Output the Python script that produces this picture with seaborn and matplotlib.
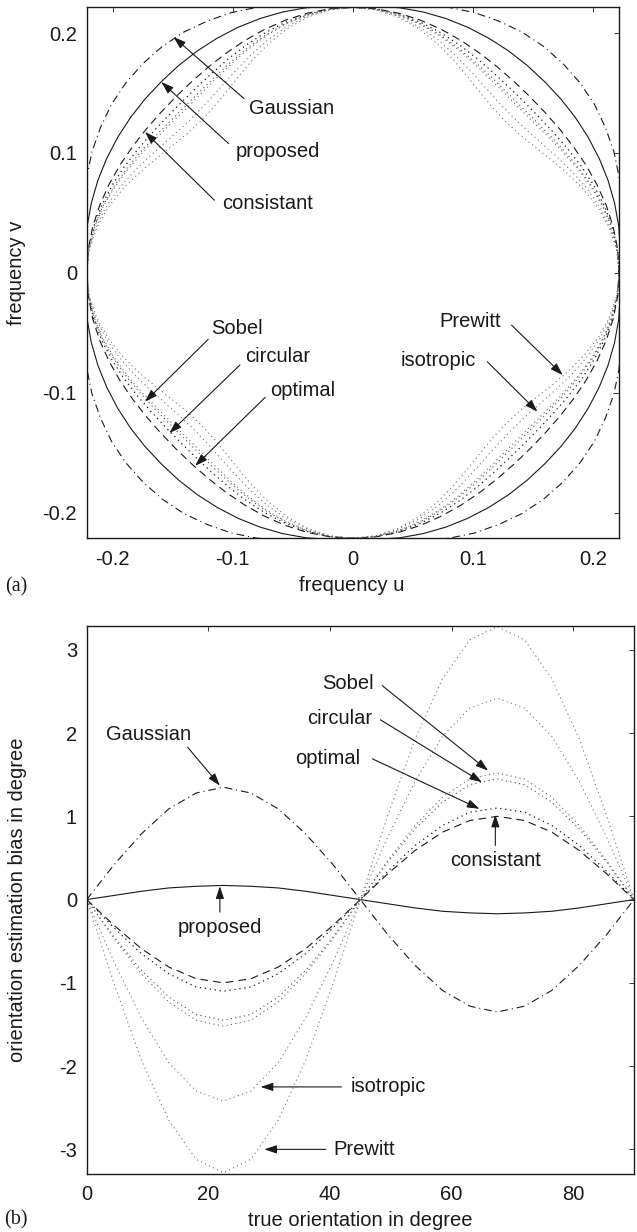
import numpy as np
import pandas as pd
import seaborn as sns
import matplotlib.pyplot as plt

# ---------------- panel (a): iso-response contours ----------------
# radius of each contour read at angles of one octant (0..45 deg); the
# contours are symmetric about both axes and the diagonals
OCT_ANGLES = [0, 5, 10, 15, 20, 25, 30, 35, 40, 45]
R_GAUSSIAN = [0.2215, 0.2235, 0.2270, 0.2310, 0.2355, 0.2395, 0.2425, 0.2452, 0.2466, 0.2470]
R_PROPOSED = [0.2215, 0.2232, 0.2245, 0.2253, 0.2258, 0.2260, 0.2260, 0.2259, 0.2257, 0.2255]
R_CONSISTANT = [0.2215, 0.2211, 0.2199, 0.2181, 0.2159, 0.2136, 0.2114, 0.2096, 0.2084, 0.2080]
R_OPTIMAL = [0.2215, 0.2209, 0.2192, 0.2165, 0.2132, 0.2098, 0.2065, 0.2038, 0.2021, 0.2015]
R_CIRCULAR = [0.2215, 0.2208, 0.2186, 0.2154, 0.2114, 0.2071, 0.2031, 0.1999, 0.1977, 0.1970]
R_SOBEL = [0.2215, 0.2207, 0.2184, 0.2149, 0.2106, 0.2059, 0.2016, 0.1981, 0.1958, 0.1950]
R_ISOTROPIC = [0.2215, 0.2204, 0.2173, 0.2126, 0.2068, 0.2007, 0.1949, 0.1902, 0.1871, 0.1860]
R_PREWITT = [0.2215, 0.2202, 0.2165, 0.2109, 0.2039, 0.1966, 0.1896, 0.1840, 0.1803, 0.1790]

FREQ_TICKS = [-0.2, -0.1, 0, 0.1, 0.2]
FREQ_LABELS = ["-0.2", "-0.1", "0", "0.1", "0.2"]

# ---------------- panel (b): orientation bias ----------------
ORIENT = [0, 4.5, 9, 13.5, 18, 22.5, 27, 31.5, 36, 40.5, 45,
          49.5, 54, 58.5, 63, 67.5, 72, 76.5, 81, 85.5, 90]
BIAS_GAUSSIAN = [0, 0.42, 0.79, 1.09, 1.28, 1.35, 1.28, 1.09, 0.79, 0.42, 0,
                 -0.42, -0.79, -1.09, -1.28, -1.35, -1.28, -1.09, -0.79, -0.42, 0]
BIAS_PROPOSED = [0, 0.05, 0.10, 0.14, 0.16, 0.17, 0.16, 0.14, 0.10, 0.05, 0,
                 -0.05, -0.10, -0.14, -0.16, -0.17, -0.16, -0.14, -0.10, -0.05, 0]
BIAS_CONSISTANT = [0, -0.31, -0.59, -0.81, -0.95, -1.00, -0.95, -0.81, -0.59, -0.31, 0,
                   0.31, 0.59, 0.81, 0.95, 1.00, 0.95, 0.81, 0.59, 0.31, 0]
BIAS_OPTIMAL = [0, -0.34, -0.65, -0.89, -1.05, -1.10, -1.05, -0.89, -0.65, -0.34, 0,
                0.34, 0.65, 0.89, 1.05, 1.10, 1.05, 0.89, 0.65, 0.34, 0]
BIAS_CIRCULAR = [0, -0.45, -0.85, -1.17, -1.38, -1.45, -1.38, -1.17, -0.85, -0.45, 0,
                 0.45, 0.85, 1.17, 1.38, 1.45, 1.38, 1.17, 0.85, 0.45, 0]
BIAS_SOBEL = [0, -0.47, -0.89, -1.23, -1.45, -1.52, -1.45, -1.23, -0.89, -0.47, 0,
              0.47, 0.89, 1.23, 1.45, 1.52, 1.45, 1.23, 0.89, 0.47, 0]
BIAS_ISOTROPIC = [0, -0.75, -1.42, -1.96, -2.30, -2.42, -2.30, -1.96, -1.42, -0.75, 0,
                  0.75, 1.42, 1.96, 2.30, 2.42, 2.30, 1.96, 1.42, 0.75, 0]
BIAS_PREWITT = [0, -1.01, -1.93, -2.65, -3.12, -3.28, -3.12, -2.65, -1.93, -1.01, 0,
                1.01, 1.93, 2.65, 3.12, 3.28, 3.12, 2.65, 1.93, 1.01, 0]

ORIENT_TICKS = [0, 20, 40, 60, 80]
BIAS_TICKS = [-3, -2, -1, 0, 1, 2, 3]

FILTERS = ["Gaussian", "proposed", "consistant", "optimal",
           "circular", "Sobel", "isotropic", "Prewitt"]
RADII = [R_GAUSSIAN, R_PROPOSED, R_CONSISTANT, R_OPTIMAL,
         R_CIRCULAR, R_SOBEL, R_ISOTROPIC, R_PREWITT]
BIASES = [BIAS_GAUSSIAN, BIAS_PROPOSED, BIAS_CONSISTANT, BIAS_OPTIMAL,
          BIAS_CIRCULAR, BIAS_SOBEL, BIAS_ISOTROPIC, BIAS_PREWITT]

DOT = (0, (1, 3))
STYLES = {
    "Gaussian": dict(ls=(0, (7, 3.5, 1, 3.5)), color="k", lw=0.8),
    "proposed": dict(ls="-", color="k", lw=0.8),
    "consistant": dict(ls=(0, (7, 4.5)), color="k", lw=0.8),
    "optimal": dict(ls=DOT, color="0.1", lw=0.9),
    "circular": dict(ls=DOT, color="0.3", lw=0.8),
    "Sobel": dict(ls=DOT, color="0.4", lw=0.8),
    "isotropic": dict(ls=DOT, color="0.45", lw=0.8),
    "Prewitt": dict(ls=DOT, color="0.45", lw=0.8),
}

# label text centre, arrow tail, arrow tip (data coordinates)
NOTES_A = [
    ("Gaussian", (-0.051, 0.137), (-0.0906, 0.1453), (-0.1493, 0.1967)),
    ("proposed", (-0.0628, 0.1008), (-0.1035, 0.1078), (-0.1594, 0.1592)),
    ("consistant", (-0.0713, 0.0578), (-0.1153, 0.0606), (-0.173, 0.1175)),
    ("Sobel", (-0.0967, -0.0464), (-0.1204, -0.0555), (-0.173, -0.1075)),
    ("circular", (-0.0628, -0.070), (-0.094, -0.0769), (-0.1527, -0.1338)),
    ("optimal", (-0.0418, -0.0978), (-0.073, -0.1039), (-0.1313, -0.1611)),
    ("Prewitt", (0.0972, -0.0408), (0.1319, -0.0436), (0.1745, -0.0853)),
    ("isotropic", (0.0711, -0.0728), (0.1118, -0.0742), (0.1535, -0.1158)),
]
NOTES_B = [
    ("Gaussian", (10.2, 1.98), (16.6, 1.83), (21.9, 1.37)),
    ("proposed", (21.9, -0.33), (21.9, -0.15), (21.9, 0.16)),
    ("consistant", (67.2, 0.47), (67.2, 0.65), (67.2, 1.02)),
    ("Sobel", (42.9, 2.60), (48.6, 2.57), (66.0, 1.55)),
    ("circular", (41.6, 2.18), (48.3, 2.16), (65.0, 1.41)),
    ("optimal", (39.6, 1.70), (47.0, 1.69), (64.6, 1.09)),
    ("isotropic", (49.6, -2.25), (41.9, -2.25), (28.6, -2.25)),
    ("Prewitt", (45.6, -3.0), (39.3, -3.0), (29.2, -3.0)),
]

FS = 14.5


def contour_frame(r_oct):
    # walk the closed contour by mirroring the octant readings
    ang, rad = [], []
    n = len(OCT_ANGLES)
    for q in range(4):
        for k in range(n):
            ang.append(q * 90 + OCT_ANGLES[k])
            rad.append(r_oct[k])
        for k in range(n - 2, -1, -1):
            ang.append(q * 90 + 90 - OCT_ANGLES[k])
            rad.append(r_oct[k])
    t = np.deg2rad(ang)
    rad = np.array(rad)
    return pd.DataFrame({"u": rad * np.cos(t), "v": rad * np.sin(t)})


def annotate(ax, notes):
    for label, txt, tail, tip in notes:
        ax.annotate("", xy=tip, xytext=tail,
                    arrowprops=dict(arrowstyle="-|>,head_length=0.75,head_width=0.25",
                                    mutation_scale=10, color="k", lw=0.8,
                                    shrinkA=0, shrinkB=0))
        ax.text(txt[0], txt[1], label, ha="center", va="center", fontsize=FS,
                color="k")


def style_axes(ax):
    for s in ax.spines.values():
        s.set_visible(True)
        s.set_linewidth(1.0)
        s.set_color("k")
    ax.tick_params(direction="in", top=True, right=True, length=3.6, width=0.6,
                   labelsize=FS, colors="k")
    ax.tick_params(axis="x", pad=8.5)
    ax.tick_params(axis="y", pad=7)
    ax.grid(False)


sns.set_theme(style="white")
plt.rcParams["font.family"] = ["Liberation Sans", "DejaVu Sans"]
plt.rcParams["axes.unicode_minus"] = False
plt.rcParams["text.color"] = "k"
plt.rcParams["axes.labelcolor"] = "k"

W, H = 637, 1232
fig = plt.figure(figsize=(W / 100, H / 100), dpi=100)

# ---- (a)
ax1 = fig.add_axes([86.7 / W, 1 - 538.3 / H, 532.5 / W, 531 / H])
for name, r in zip(FILTERS, RADII):
    st = STYLES[name]
    sns.lineplot(data=contour_frame(r), x="u", y="v", sort=False, estimator=None,
                 ax=ax1, color=st["color"], linestyle=st["ls"], linewidth=st["lw"])
ax1.set_xlim(-0.2215, 0.2215)
ax1.set_ylim(-0.2215, 0.2215)
ax1.set_xticks(FREQ_TICKS)
ax1.set_xticklabels(FREQ_LABELS)
ax1.set_yticks(FREQ_TICKS)
ax1.set_yticklabels(FREQ_LABELS)
style_axes(ax1)
ax1.set_xlabel("frequency u", fontsize=FS)
ax1.set_ylabel("frequency v", fontsize=FS)
ax1.xaxis.set_label_coords(0.498, -0.088)
ax1.yaxis.set_label_coords(-0.131, 0.5)
ax1.xaxis.label.set_va("center")
ax1.yaxis.label.set_va("center")
annotate(ax1, NOTES_A)

# ---- (b)
ax2 = fig.add_axes([86.7 / W, 1 - 1173.5 / H, 547.3 / W, 547.8 / H])
for name, b in zip(FILTERS, BIASES):
    st = STYLES[name]
    sns.lineplot(x=ORIENT, y=b, sort=False, estimator=None, ax=ax2,
                 color=st["color"], linestyle=st["ls"], linewidth=st["lw"])
ax2.set_xlim(0, 90)
ax2.set_ylim(-3.29, 3.29)
ax2.set_xticks(ORIENT_TICKS)
ax2.set_xticklabels([str(t) for t in ORIENT_TICKS])
ax2.set_yticks(BIAS_TICKS)
ax2.set_yticklabels([str(t) for t in BIAS_TICKS])
style_axes(ax2)
ax2.set_xlabel("true orientation in degree", fontsize=FS)
ax2.set_ylabel("orientation estimation bias in degree", fontsize=FS)
ax2.xaxis.set_label_coords(0.5, -0.085)
ax2.yaxis.set_label_coords(-0.127, 0.5)
ax2.xaxis.label.set_va("center")
ax2.yaxis.label.set_va("center")
annotate(ax2, NOTES_B)

fig.text(16 / W, 1 - 587 / H, "(a)", family=["Liberation Serif", "DejaVu Serif"],
         fontsize=FS, ha="center", va="center")
fig.text(16 / W, 1 - 1220 / H, "(b)", family=["Liberation Serif", "DejaVu Serif"],
         fontsize=FS, ha="center", va="center")

fig.savefig("out.png", dpi=100, facecolor="white")
